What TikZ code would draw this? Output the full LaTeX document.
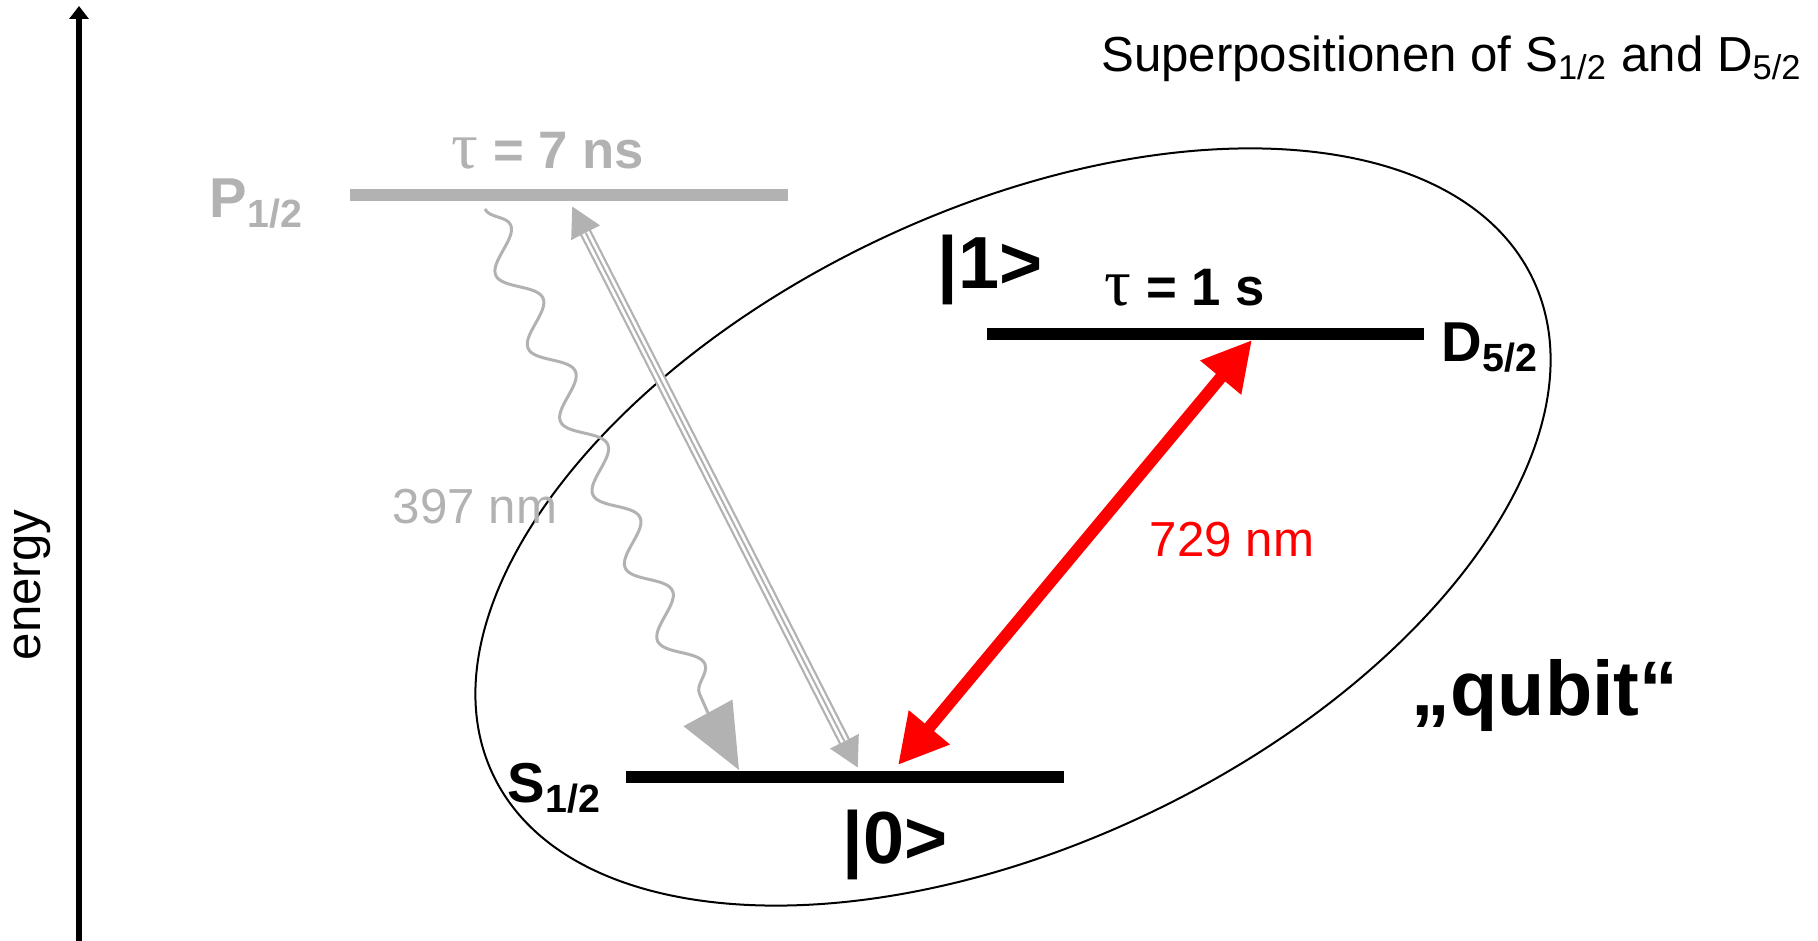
\documentclass[tikz,border=0pt]{standalone}
\usepackage{fontspec}
\setmainfont{Liberation Sans}
\newfontfamily\greekfont{Liberation Serif}
\usetikzlibrary{arrows.meta, decorations.pathmorphing}
\definecolor{lgray}{RGB}{178,178,178}
\definecolor{lred}{RGB}{255,0,0}
\newcommand{\life}{{\greekfont\fontsize{19}{22}\selectfont\mdseries τ}}
\tikzset{
    level/.style={line width=0.12cm},
    statelabel/.style={font=\fontsize{21}{25}\selectfont\bfseries, inner sep=0pt},
    termlabel/.style={font=\fontsize{16}{19}\selectfont\bfseries, inner sep=0pt},
    lifelabel/.style={font=\fontsize{15}{18}\selectfont\bfseries, inner sep=0pt},
    plainlabel/.style={font=\fontsize{14}{17}\selectfont, inner sep=0pt},
    pumparrow/.style={draw=lgray, line width=0.12cm,
        {Triangle[length=0.3cm,width=0.3cm]}-{Triangle[length=0.3cm,width=0.3cm]},
        postaction={draw=white, -, line width=0.075cm, shorten <=0.3cm, shorten >=0.3cm},
        postaction={draw=lgray, -, line width=0.02cm, shorten <=0.3cm, shorten >=0.3cm}}
}
\begin{document}
\begin{tikzpicture}
    \useasboundingbox (0,0) rectangle (18.18,9.41);

    % energy axis
    \coordinate (e0) at (0.79,0);
    \coordinate (e1) at (0.79,9.35);
    \draw[line width=0.055cm, -{Triangle[length=0.13cm,width=0.19cm]}] (e0) -- (e1);
    \node[plainlabel, rotate=90] (energy) at (0.32,3.56) {energy};

    \node[plainlabel, anchor=base east] (title) at (18.03,8.69)
        {Superpositionen of S\textsubscript{1/2} and D\textsubscript{5/2}};

    % levels
    \coordinate (p0) at (3.50,7.46);
    \coordinate (p1) at (7.88,7.46);
    \coordinate (d0) at (9.87,6.07);
    \coordinate (d1) at (14.24,6.07);
    \coordinate (s0) at (6.26,1.64);
    \coordinate (s1) at (10.64,1.64);
    \draw[level, lgray] (p0) -- (p1);
    \draw[level] (d0) -- (d1);
    \draw[level] (s0) -- (s1);

    \node[termlabel, lgray, anchor=base west] (pname) at (2.09,7.23) {P\textsubscript{1/2}};
    \node[termlabel, anchor=base west] (dname) at (14.41,5.79) {D\textsubscript{5/2}};
    \node[termlabel, anchor=base west] (sname) at (5.07,1.38) {S\textsubscript{1/2}};
    \node[lifelabel, lgray] (ptau) at (5.48,7.90) {\life\ = 7 ns};
    \node[lifelabel] (dtau) at (11.85,6.53) {\life\ = 1 s};
    \node[statelabel] (ket1) at (9.90,6.71) {|1>};
    \node[statelabel] (ket0) at (8.95,0.96) {|0>};

    % qubit ellipse
    \coordinate (qc) at (10.13,4.14);
    \draw[line width=0.02cm] (qc) ellipse [x radius=5.76, y radius=3.17, rotate=25.5];
    \node[font=\fontsize{22}{26}\selectfont\bfseries, inner sep=0pt] (qubit) at (15.45,2.45) {„qubit“};

    % 397 nm decay and pump
    \coordinate (w0) at (4.85,7.32);
    \coordinate (w1) at (7.08,2.28);
    \coordinate (w2) at (7.39,1.71);
    \draw[lgray, line width=0.03cm, decorate,
        decoration={snake, amplitude=0.17cm, segment length=0.8cm}] (w0) -- (w1);
    \draw[lgray, line width=0.03cm, -{Triangle[length=0.65cm,width=0.55cm]}] (w1) -- (w2);
    \coordinate (g0) at (8.58,1.73);
    \coordinate (g1) at (5.72,7.35);
    \draw[pumparrow] (g0) -- (g1);
    \node[plainlabel, lgray] (uv) at (4.75,4.34) {397 nm};

    % 729 nm qubit transition
    \coordinate (r0) at (8.98,1.76);
    \coordinate (r1) at (12.52,6.01);
    \draw[lred, line width=0.12cm,
        {Triangle[length=0.49cm,width=0.50cm]}-{Triangle[length=0.49cm,width=0.50cm]}] (r0) -- (r1);
    \node[plainlabel, lred] (ir) at (12.32,4.01) {729 nm};
\end{tikzpicture}
\end{document}
